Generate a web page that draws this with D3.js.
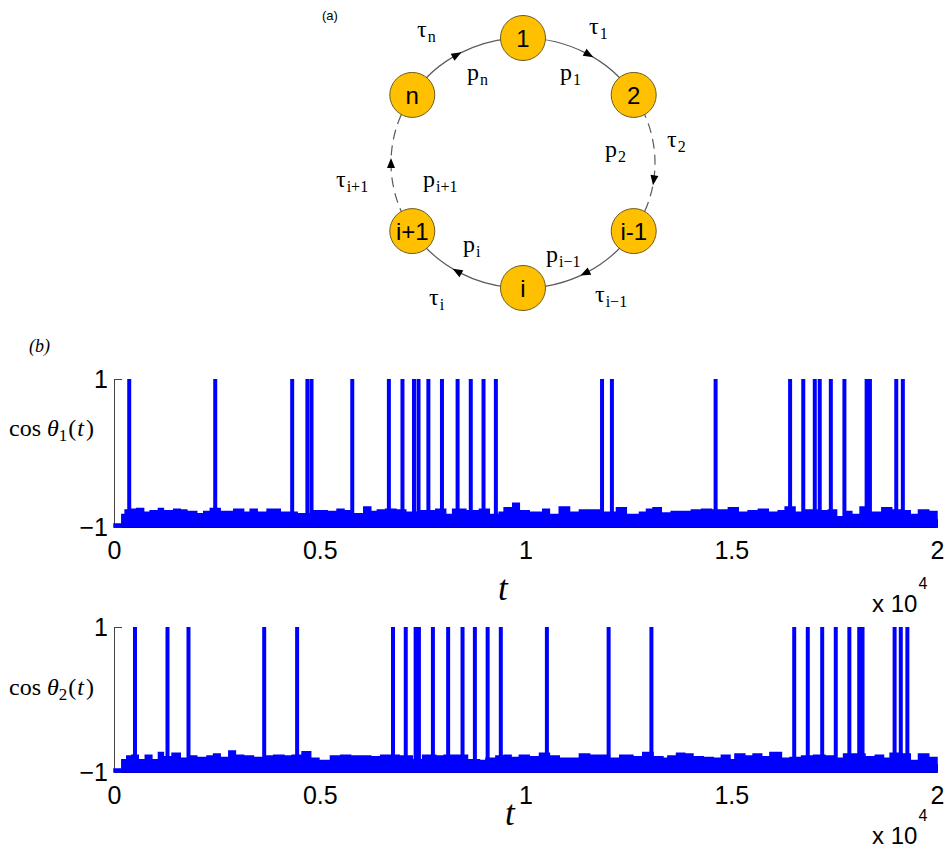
<!DOCTYPE html>
<html>
<head>
<meta charset="utf-8">
<script src="https://cdn.jsdelivr.net/npm/d3@7"></script>
<style>
  body { margin: 0; background: #fff; }
  text { fill: #000; }
</style>
</head>
<body>
<script>
// x ticks (t in units of 10^4) and y ticks
var xTicks = [0, 5000, 10000, 15000, 20000];
var xTickLabels = ["0", "0.5", "1", "1.5", "2"];
var yTicks = [-1, 1];
var yTickLabels = ["−1", "1"];

// times where cos(theta) jumps up to 1
var spikes1 = [370, 2460, 4330, 4700, 4800, 5790, 6680, 7010, 7290, 7400, 7640, 7970, 8350, 8670,
  8980, 9280, 11860, 12100, 14620, 16430, 16750, 17030, 17150, 17420, 17750, 18290, 18370, 19010, 19170];
var spikes2 = [510, 1300, 1810, 3650, 4450, 6780, 7090, 7330, 7410, 7750, 8120, 8470, 8770, 9080,
  9400, 10520, 12020, 13060, 16530, 16860, 17210, 17540, 17870, 18110, 18190, 18970, 19120, 19280];

// upper envelope of the fast noise near -1
var envT1 = [0, 150, 190, 270, 390, 550, 720, 880, 1080, 1200, 1450, 1610, 1770, 2010, 2180, 2340,
  2580, 2910, 3150, 3310, 3480, 3720, 3880, 4040, 4290, 4450, 4780, 4940, 5180, 5420, 5590, 5750,
  6070, 6240, 6400, 6600, 6850, 7090, 7410, 7820, 8060, 8230, 8550, 8880, 9120, 9360, 9480, 9690,
  9850, 10090, 10420, 10580, 10820, 11070, 11310, 11560, 11800, 12210, 12450, 12770, 12940, 13100,
  13300, 13540, 13790, 14030, 14280, 14520, 14760, 14930, 15170, 15410, 15660, 15900, 16140, 16310,
  16550, 16790, 17120, 17360, 17560, 17770, 17930, 18130, 18340, 18660, 18900, 19150, 19350, 19550,
  19800, 20000];
var envV1 = [-0.96, -0.96, -0.83, -0.77, -0.76, -0.75, -0.80, -0.78, -0.75, -0.78, -0.76, -0.77,
  -0.79, -0.82, -0.79, -0.75, -0.79, -0.76, -0.80, -0.76, -0.80, -0.76, -0.76, -0.80, -0.80, -0.82,
  -0.78, -0.78, -0.79, -0.76, -0.78, -0.82, -0.73, -0.79, -0.77, -0.76, -0.77, -0.80, -0.78, -0.76,
  -0.83, -0.76, -0.78, -0.76, -0.83, -0.80, -0.74, -0.68, -0.78, -0.80, -0.76, -0.83, -0.73, -0.80,
  -0.77, -0.77, -0.80, -0.74, -0.83, -0.80, -0.76, -0.74, -0.81, -0.79, -0.79, -0.77, -0.76, -0.77,
  -0.77, -0.74, -0.80, -0.78, -0.76, -0.80, -0.78, -0.73, -0.80, -0.77, -0.78, -0.77, -0.86, -0.79,
  -0.83, -0.73, -0.80, -0.74, -0.77, -0.78, -0.83, -0.77, -0.79, -0.82];

var envT2 = [0, 150, 190, 310, 430, 590, 760, 920, 1080, 1200, 1410, 1610, 1850, 2010, 2260, 2420,
  2580, 2790, 2950, 3150, 3390, 3640, 3880, 4130, 4330, 4570, 4780, 4980, 5260, 5510, 5750, 5990,
  6240, 6480, 6680, 6930, 7250, 7500, 7820, 8020, 8310, 8590, 8880, 9040, 9280, 9480, 9650, 9850,
  10090, 10340, 10580, 10820, 11070, 11310, 11560, 11800, 12040, 12290, 12610, 12850, 13100, 13340,
  13460, 13670, 13870, 14070, 14320, 14560, 14760, 14970, 15090, 15330, 15530, 15740, 15940, 16060,
  16220, 16430, 16710, 17000, 17280, 17520, 17730, 17970, 18250, 18500, 18700, 18860, 19150, 19350,
  19550, 19800, 20000];
var envV2 = [-0.96, -0.96, -0.83, -0.78, -0.77, -0.83, -0.77, -0.83, -0.73, -0.79, -0.74, -0.81,
  -0.78, -0.80, -0.78, -0.75, -0.80, -0.71, -0.77, -0.78, -0.80, -0.78, -0.77, -0.78, -0.77, -0.72,
  -0.81, -0.84, -0.78, -0.77, -0.78, -0.78, -0.79, -0.77, -0.77, -0.78, -0.83, -0.77, -0.78, -0.77,
  -0.77, -0.83, -0.84, -0.81, -0.78, -0.77, -0.80, -0.77, -0.79, -0.74, -0.78, -0.81, -0.81, -0.75,
  -0.77, -0.77, -0.81, -0.77, -0.79, -0.73, -0.79, -0.81, -0.78, -0.74, -0.75, -0.79, -0.80, -0.81,
  -0.77, -0.83, -0.75, -0.78, -0.75, -0.79, -0.73, -0.73, -0.81, -0.80, -0.78, -0.77, -0.78, -0.81,
  -0.75, -0.75, -0.79, -0.77, -0.81, -0.74, -0.75, -0.84, -0.75, -0.80, -0.80];

// ring diagram
var nodeNames = ["1", "2", "i-1", "i", "i+1", "n"];

var W = 946, H = 851;
var svg = d3.select("body").append("svg")
  .attr("width", W)
  .attr("height", H)
  .style("font-family", "'Liberation Sans', Arial, sans-serif");

// ---------- (a) ring ----------
var cx = 523, cy = 163, rx = 132, ry = 125;
var nodeAngles = [90, 33, -33, -90, -147, 147];
var dashedArc = [false, true, false, false, true, false];
var arrowAngles = [60, -8, -62, -120, 180, 120];

function pt(a) {
  var r = a * Math.PI / 180;
  return [cx + rx * Math.cos(r), cy - ry * Math.sin(r)];
}

svg.append("text").attr("x", 322).attr("y", 20)
  .style("font-size", "13px").text("(a)");

var ring = svg.append("g");
nodeAngles.forEach(function(a, k) {
  var p0 = pt(a), p1 = pt(nodeAngles[(k + 1) % 6]);
  ring.append("path")
    .attr("d", "M" + p0[0] + "," + p0[1] + " A" + rx + "," + ry + " 0 0 1 " + p1[0] + "," + p1[1])
    .attr("fill", "none")
    .attr("stroke", "#5a5a5a")
    .attr("stroke-width", 1.2)
    .attr("stroke-dasharray", dashedArc[k] ? "10,6" : null);
});

arrowAngles.forEach(function(a) {
  var r = a * Math.PI / 180, p = pt(a);
  var rot = Math.atan2(ry * Math.cos(r), rx * Math.sin(r)) * 180 / Math.PI;
  ring.append("path")
    .attr("d", "M5,0 L-5,-4 L-5,4 Z")
    .attr("fill", "#000")
    .attr("transform", "translate(" + p[0] + "," + p[1] + ") rotate(" + rot + ")");
});

var nodes = ring.selectAll("g.node").data(nodeNames).enter().append("g")
  .attr("class", "node")
  .attr("transform", function(d, i) { var p = pt(nodeAngles[i]); return "translate(" + p[0] + "," + p[1] + ")"; });
nodes.append("circle").attr("r", 22.5)
  .attr("fill", "#ffc000").attr("stroke", "#6e5a20").attr("stroke-width", 1);
nodes.append("text")
  .attr("text-anchor", "middle").attr("dy", "0.36em")
  .style("font-size", "24px")
  .text(function(d) { return d; });

// tau / p labels around the ring
var ringLabels = [
  {s: "τ", sub: "n", x: 417, y: 37}, {s: "τ", sub: "1", x: 589, y: 34},
  {s: "p", sub: "n", x: 467, y: 80}, {s: "p", sub: "1", x: 560, y: 80},
  {s: "τ", sub: "2", x: 667, y: 147}, {s: "p", sub: "2", x: 605, y: 157},
  {s: "τ", sub: "i+1", x: 336, y: 187}, {s: "p", sub: "i+1", x: 423, y: 187},
  {s: "p", sub: "i", x: 463, y: 252}, {s: "p", sub: "i−1", x: 546, y: 262},
  {s: "τ", sub: "i", x: 429, y: 305}, {s: "τ", sub: "i−1", x: 595, y: 302}
];
ringLabels.forEach(function(l) {
  var t = svg.append("text").attr("x", l.x).attr("y", l.y)
    .style("font-family", "'Liberation Serif', serif").style("font-size", "24px");
  t.append("tspan").text(l.s);
  t.append("tspan").attr("dy", 5).attr("dx", 1).style("font-size", "16px").text(l.sub);
});

// ---------- (b) time series ----------
svg.append("text").attr("x", 29).attr("y", 352)
  .style("font-family", "'Liberation Serif', serif").style("font-style", "italic")
  .style("font-size", "18px").text("(b)");

var x = d3.scaleLinear().domain([0, 20000]).range([114, 937]);

function panel(yTop, yBot, spikes, envT, envV, sub, labY, tX, tY, expY) {
  var y = d3.scaleLinear().domain([-1, 1]).range([yBot, yTop]);
  var g = svg.append("g");

  // x axis (sits under the trace)
  g.append("g")
    .attr("transform", "translate(0," + yBot + ")")
    .call(d3.axisBottom(x).tickValues(xTicks)
      .tickFormat(function(d, i) { return xTickLabels[i]; })
      .tickSizeInner(-8).tickSizeOuter(0).tickPadding(14))
    .call(function(a) {
      a.selectAll("text").style("font-size", "25px").style("font-family", "'Liberation Sans', Arial, sans-serif");
    });

  // y axis
  g.append("g")
    .attr("transform", "translate(" + x(0) + ",0)")
    .call(d3.axisLeft(y).tickValues(yTicks)
      .tickFormat(function(d, i) { return yTickLabels[i]; })
      .tickSizeInner(-8).tickSizeOuter(0).tickPadding(6))
    .call(function(a) {
      a.select(".domain").attr("stroke", "#444");
      a.selectAll(".tick line").attr("stroke", "#444");
      a.selectAll("text").style("font-size", "25px").style("font-family", "'Liberation Sans', Arial, sans-serif");
    });

  var env = envT.map(function(t, i) { return {t: t, v: envV[i]}; });
  var area = d3.area()
    .x(function(d) { return x(d.t); })
    .y0(y(-1))
    .y1(function(d) { return y(d.v); })
    .curve(d3.curveStepAfter);
  g.append("path").datum(env)
    .attr("d", area)
    .attr("fill", "#0000ff")
    .attr("stroke", "#0000ff")
    .attr("stroke-width", 1.5);

  g.selectAll("line.spike").data(spikes).enter().append("line")
    .attr("class", "spike")
    .attr("x1", function(d) { return x(d); })
    .attr("x2", function(d) { return x(d); })
    .attr("y1", y(-1))
    .attr("y2", y(1))
    .attr("stroke", "#0000ff")
    .attr("stroke-width", 4);

  // y label: cos θ_k(t)
  var yl = svg.append("text").attr("x", 9).attr("y", labY)
    .style("font-family", "'Liberation Serif', serif").style("font-size", "24px");
  yl.append("tspan").text("cos");
  yl.append("tspan").attr("dx", 6).style("font-style", "italic").text("θ");
  yl.append("tspan").attr("dy", 5).style("font-size", "17px").text(sub);
  yl.append("tspan").attr("dy", -5).attr("dx", 1).text("(");
  yl.append("tspan").attr("dx", 1).style("font-style", "italic").text("t");
  yl.append("tspan").attr("dx", 2).text(")");

  // x label
  svg.append("text").attr("x", tX).attr("y", tY)
    .style("font-family", "'Liberation Serif', serif").style("font-style", "italic")
    .style("font-size", "35px").text("t");

  // x 10^4
  var ex = svg.append("text").attr("x", 872).attr("y", expY)
    .style("font-size", "24px");
  ex.append("tspan").text("x 10");
  ex.append("tspan").attr("dy", -23).attr("dx", 1).style("font-size", "16px").text("4");
}

panel(379, 527, spikes1, envT1, envV1, "1", 436, 498, 600, 612);
panel(627, 772, spikes2, envT2, envV2, "2", 695, 505, 825, 844);
</script>
</body>
</html>
